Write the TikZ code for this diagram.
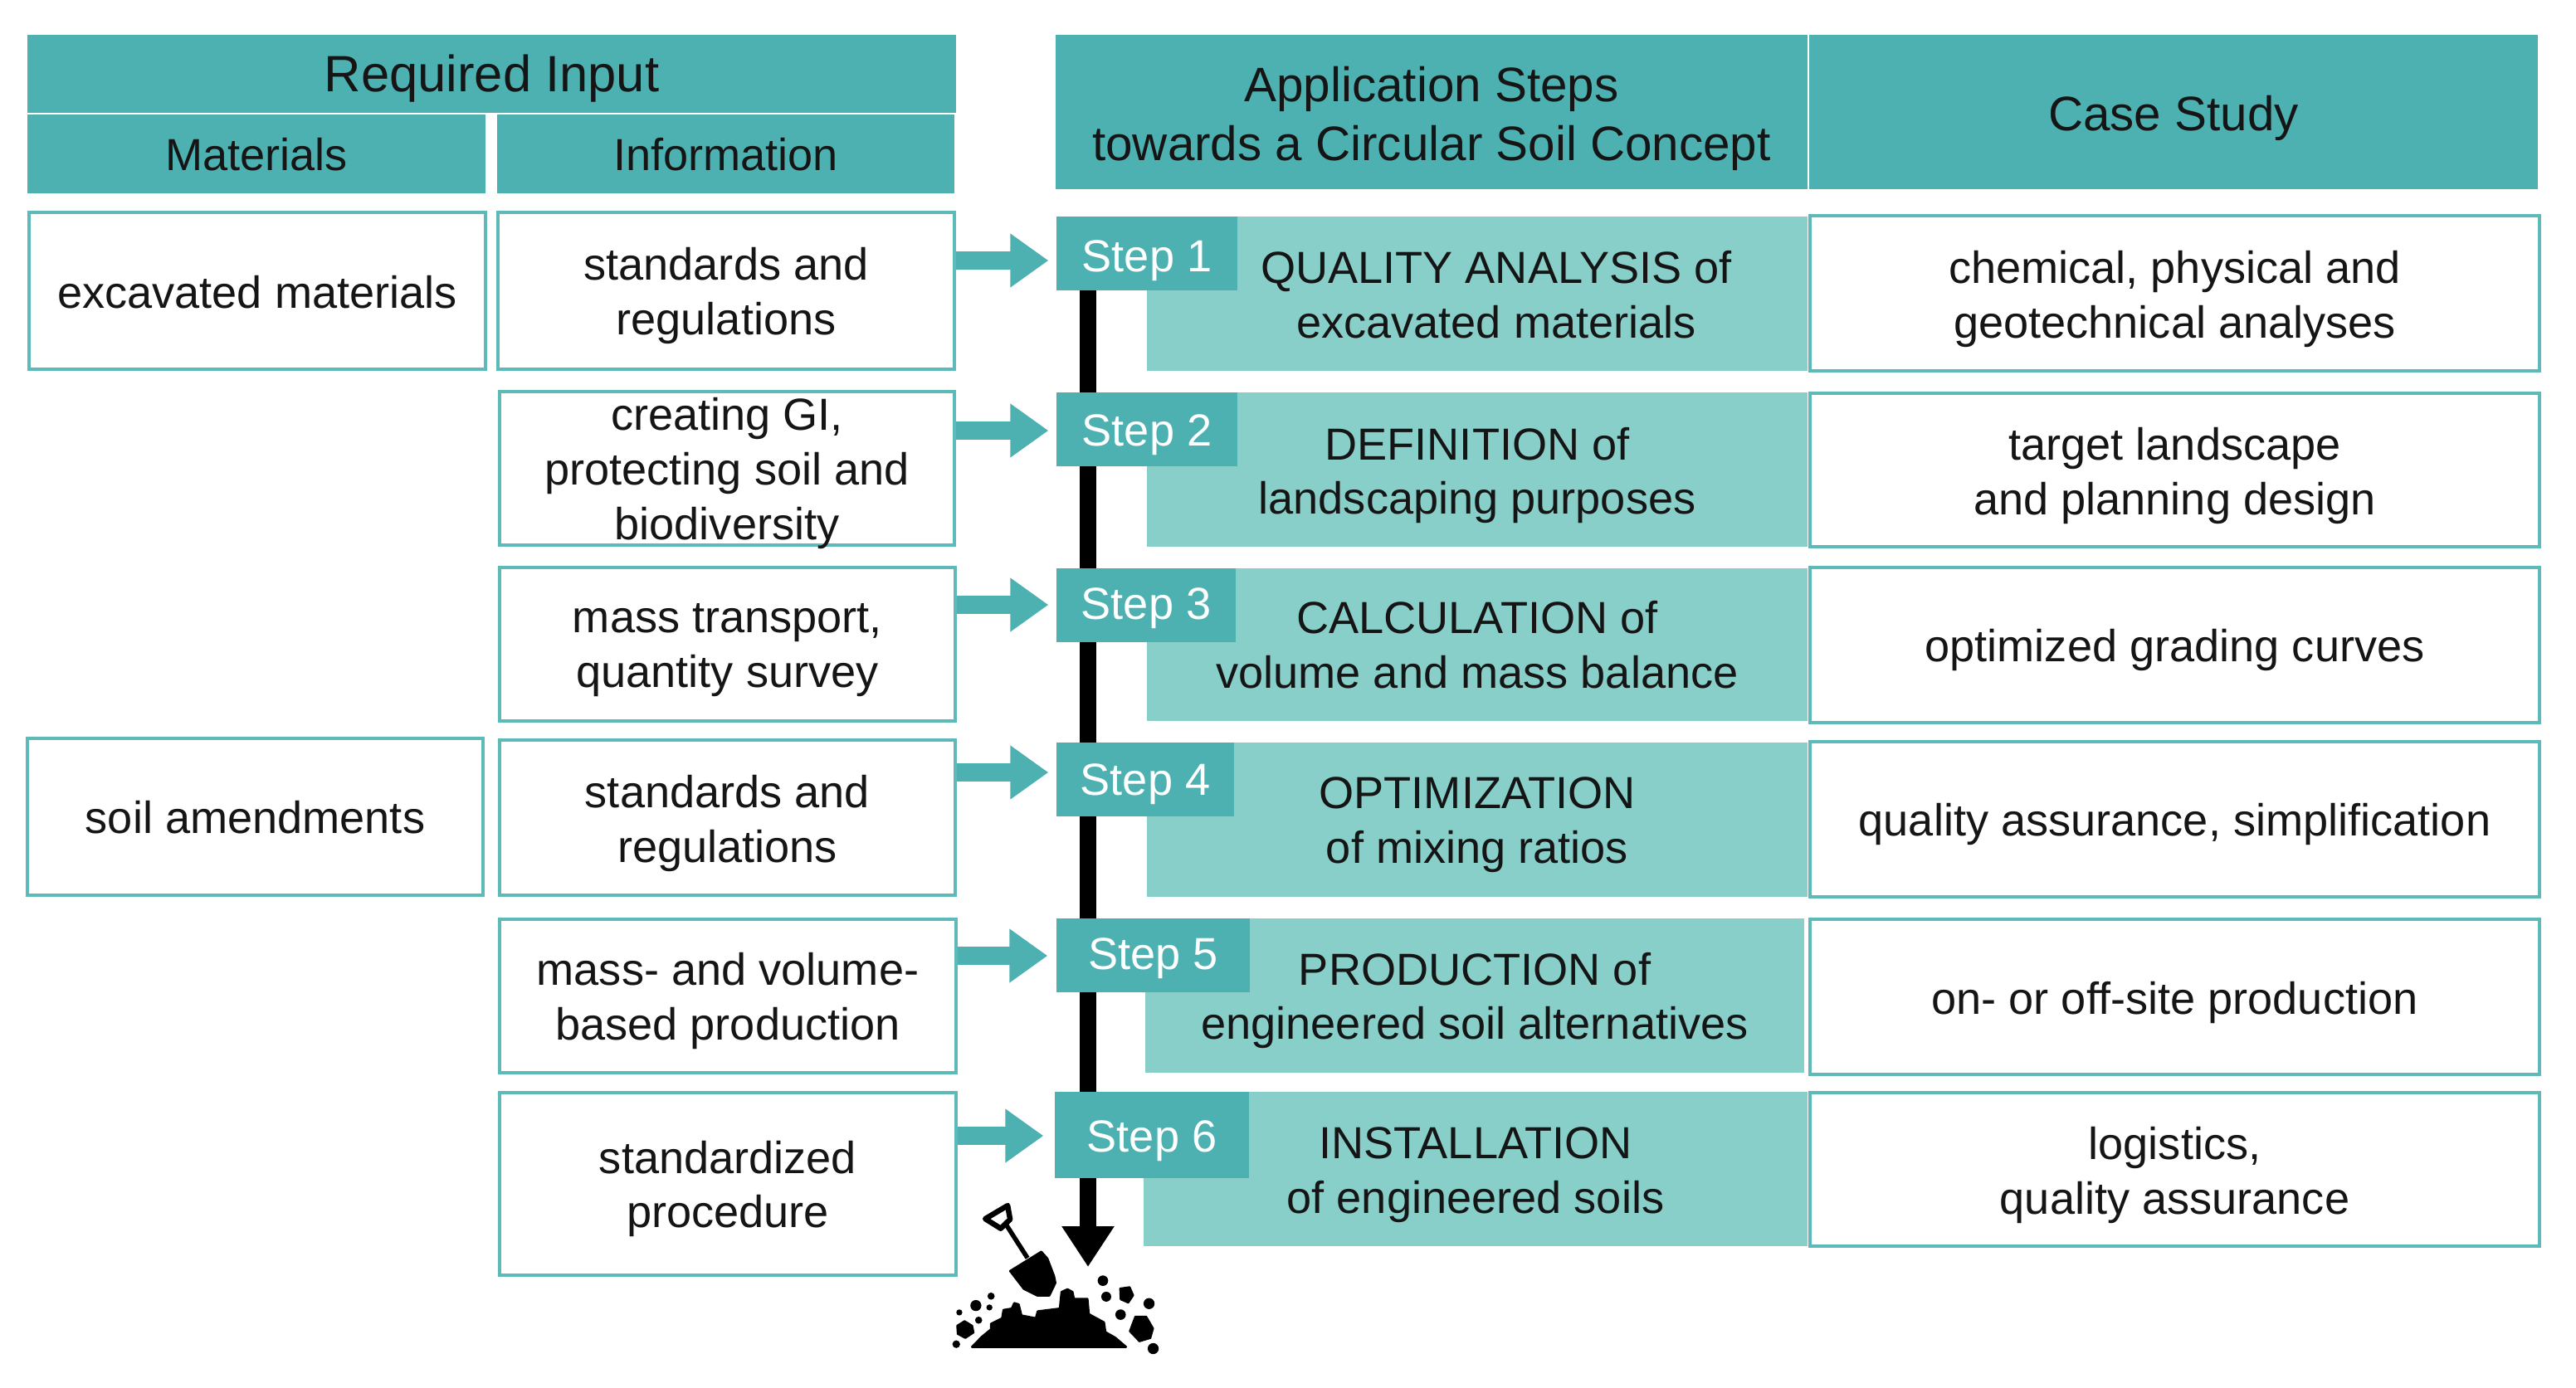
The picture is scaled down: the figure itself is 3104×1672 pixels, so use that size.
\documentclass[tikz,border=0pt]{standalone}
\usepackage{fontspec}
\setmainfont{Liberation Sans}
\usetikzlibrary{arrows.meta,backgrounds}
\definecolor{tealdark}{HTML}{4DB1B2}
\definecolor{teallight}{HTML}{88CFCA}
\definecolor{tealline}{HTML}{5DBAB9}
\definecolor{inktext}{HTML}{151515}
% name, style, x1,y1,x2,y2, text, vertical offset of the text
\newcommand{\pxbox}[8]{%
 \node[#2,minimum width={(#5-#3)*0.01cm},minimum height={(#6-#4)*0.01cm}] (#1) at ({(#3+#5)/2},{(#4+#6)/2}) {};
 \node[#2,fill=none,draw=none] (#1text) at ({(#3+#5)/2},{(#4+#6)/2+#8}) {#7};}
\tikzset{
 anybox/.style={rectangle,inner sep=0pt,align=center,text=inktext,font=\fontsize{15.4}{18.7}\selectfont},
 headbox/.style={anybox,fill=tealdark},
 headlarge/.style={headbox,font=\fontsize{17.5}{20}\selectfont},
 headmid/.style={headbox,font=\fontsize{16.6}{20.2}\selectfont},
 inputbox/.style={anybox,draw=tealline,line width=0.035cm,fill=white},
 barbox/.style={anybox,fill=teallight},
 tabbox/.style={anybox,fill=tealdark,text=white},
 flowarrow/.style={draw=tealdark,line width=0.22cm,-{Triangle[length=0.46cm,width=0.62cm]}},
 mainarrow/.style={draw=black,line width=0.2cm,-{Triangle[length=0.49cm,width=0.6cm]}},
 ink/.style={fill=black,draw=black,line join=round}
}
\begin{document}
\begin{tikzpicture}[x=0.01cm,y=-0.01cm]
\useasboundingbox (0,0) rectangle (3104,1672);
% headers
\pxbox{hreq}{headlarge}{33}{42}{1152}{136}{Required Input}{6}
\pxbox{hmat}{headbox}{33}{138}{585}{233}{Materials}{1}
\pxbox{hinf}{headbox}{599}{138}{1150}{233}{Information}{1}
\pxbox{happ}{headmid}{1272}{42}{2178}{228}{Application Steps\\towards a Circular Soil Concept}{8}
\pxbox{hcas}{headmid}{2180}{42}{3058}{228}{Case Study}{7}
% materials
\pxbox{mat1}{inputbox}{35}{256}{585}{445}{excavated materials}{2}
\pxbox{mat4}{inputbox}{33}{890}{582}{1079}{soil amendments}{1}
% information
\pxbox{inf1}{inputbox}{600}{256}{1150}{445}{standards and\\regulations}{6}
\pxbox{inf2}{inputbox}{602}{472}{1150}{657}{creating GI,\\protecting soil and\\biodiversity}{6}
\pxbox{inf3}{inputbox}{602}{684}{1151}{869}{mass transport,\\quantity survey}{7}
\pxbox{inf4}{inputbox}{602}{892}{1151}{1079}{standards and\\regulations}{7}
\pxbox{inf5}{inputbox}{602}{1108}{1152}{1293}{mass- and volume-\\based production}{6}
\pxbox{inf6}{inputbox}{602}{1317}{1152}{1537}{standardized\\procedure}{6}
% light bars
\pxbox{bar1}{barbox}{1382}{261}{2178}{447}{}{0}
\node[anybox] (quality) at (1803,355) {QUALITY ANALYSIS of\\excavated materials};
\pxbox{bar2}{barbox}{1382}{473}{2178}{659}{DEFINITION of\\landscaping purposes}{7}
\pxbox{bar3}{barbox}{1382}{685}{2178}{869}{CALCULATION of\\volume and mass balance}{0}
\pxbox{bar4}{barbox}{1382}{895}{2178}{1081}{OPTIMIZATION\\of mixing ratios}{6}
\pxbox{bar5}{barbox}{1380}{1107}{2174}{1293}{PRODUCTION of\\engineered soil alternatives}{6}
\pxbox{bar6}{barbox}{1378}{1316}{2178}{1502}{INSTALLATION\\of engineered soils}{7}
% step tabs
\pxbox{step1}{tabbox}{1273}{261}{1491}{350}{Step 1}{9}
\pxbox{step2}{tabbox}{1273}{473}{1491}{562}{Step 2}{7}
\pxbox{step3}{tabbox}{1273}{685}{1489}{774}{Step 3}{4}
\pxbox{step4}{tabbox}{1273}{895}{1487}{984}{Step 4}{6}
\pxbox{step5}{tabbox}{1273}{1107}{1506}{1196}{Step 5}{4}
\pxbox{step6}{tabbox}{1271}{1316}{1505}{1420}{Step 6}{7}
% case study
\pxbox{cas1}{inputbox}{2181}{260}{3060}{447}{chemical, physical and\\geotechnical analyses}{7}
\pxbox{cas2}{inputbox}{2181}{474}{3060}{659}{target landscape\\and planning design}{7}
\pxbox{cas3}{inputbox}{2181}{684}{3060}{871}{optimized grading curves}{6}
\pxbox{cas4}{inputbox}{2181}{894}{3060}{1081}{quality assurance, simplification}{6}
\pxbox{cas5}{inputbox}{2181}{1108}{3060}{1295}{on- or off-site production}{7}
\pxbox{cas6}{inputbox}{2181}{1317}{3060}{1502}{logistics,\\quality assurance}{7}
% connector anchors
\coordinate (y1) at (0,314);
\coordinate (y2) at (0,519);
\coordinate (y3) at (0,729);
\coordinate (y4) at (0,931);
\coordinate (y5) at (0,1152);
\coordinate (y6) at (0,1369);
\coordinate (mainstart) at (1311,300);
\coordinate (maintip) at (1311,1527);
\foreach \i/\s in {1/0.09,2/0.09,3/0.09,4/0.09,5/0.1,6/0.13}{
  \draw[flowarrow,shorten >=\s cm] (inf\i.east |- y\i) -- (step\i.west |- y\i);
}
\begin{pgfonlayer}{background}
\fill[white] (0,0) rectangle (3104,1672);
\draw[mainarrow] (mainstart) -- (maintip);
\end{pgfonlayer}
% shovel and soil
\begin{scope}[shift={(1100,1300)},x=0.00333cm,y=-0.00333cm]
\fill[ink,line width=0.025cm] (214,972)--(250,935)--(283,908)--(283,888)--(323,868)--(328,838)--(358,833)--(367,813)--(383,818)--(393,858)--(445,868)--(452,843)--(532,833)--(538,773)--(560,763)--(578,773)--(583,798)--(632,798)--(637,853)--(692,883)--(697,918)--(732,938)--(772,972)--cycle;
\fill[ink,line width=0.025cm] (352,697)--(465,627)--(487,652)--(511,715)--(516,740)--(494,786)--(450,786)--(402,762)--cycle;
\draw[draw=black,line width=0.055cm] (335,525)--(415,650);
\draw[draw=black,line width=0.065cm,line join=round] (262,508)--(343,460)--(352,510)--(318,543)--cycle;
\foreach \px/\py/\pr in {168/847/11,228/822/20,283/788/13,277/829/11,238/875/13,157/962/14,688/732/19,700/790/18,855/815/20,752/855/19,870/978/20}{
  \fill[black] (\px,\py) circle[radius=\pr];
}
\fill[ink,line width=0.02cm] (187,878)--(215,895)--(220,920)--(190,940)--(162,925)--(160,895)--cycle;
\fill[ink,line width=0.02cm] (750,760)--(785,755)--(798,785)--(780,812)--(752,800)--cycle;
\fill[ink,line width=0.02cm] (805,862)--(845,862)--(870,905)--(860,940)--(820,952)--(785,915)--cycle;
\end{scope}
\end{tikzpicture}
\end{document}
